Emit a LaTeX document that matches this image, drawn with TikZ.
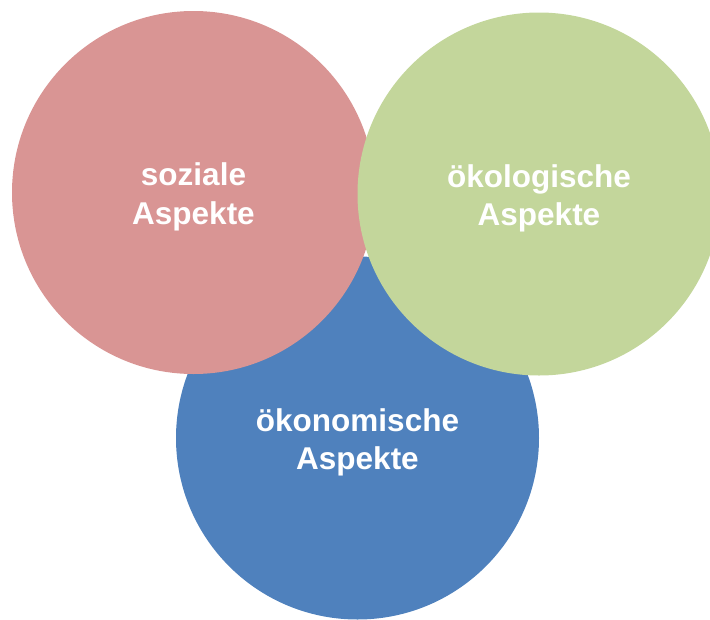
\documentclass[tikz,border=0pt]{standalone}
\usepackage{fontspec}
\setmainfont{Liberation Sans}
\definecolor{rosa}{HTML}{D99594}
\definecolor{gruen}{HTML}{C3D69B}
\definecolor{blau}{HTML}{4F81BD}
\begin{document}
\begin{tikzpicture}[x=1pt,y=-1pt,
  aspect/.style={circle, minimum size=363pt, inner sep=0pt},
  aspecttext/.style={text=white, inner sep=0pt,
    font=\fontsize{31.5}{38.5}\selectfont\bfseries, align=center}]
\useasboundingbox (0,0) rectangle (710,619);
\node[aspect, fill=blau] (oekon) at (357.5,438) {};
\node[aspect, fill=rosa] (sozial) at (193.5,192.5) {};
\node[aspect, fill=gruen] (oekol) at (539,194) {};
\node[aspecttext] (toekon) at ([yshift=-4.5pt]oekon.center) {ökonomische\\Aspekte};
\node[aspecttext] (tsozial) at ([yshift=-4.5pt]sozial.center) {soziale\\Aspekte};
\node[aspecttext] (toekol) at ([yshift=-4.5pt]oekol.center) {ökologische\\Aspekte};
\end{tikzpicture}
\end{document}
